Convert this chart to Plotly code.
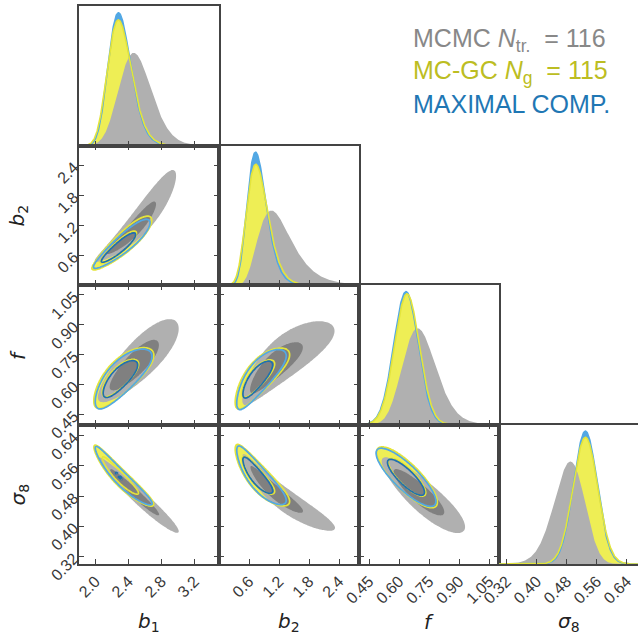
import numpy as np
import plotly.graph_objects as go

# ---------------- data ----------------
param_labels = ["<i>b</i><sub>1</sub>", "<i>b</i><sub>2</sub>", "<i>f</i>", "<i>σ</i><sub>8</sub>"]
axis_ranges = [[1.8, 3.5], [0.0, 2.8], [0.40, 1.10], [0.30, 0.67]]
tick_values = [[2.0, 2.4, 2.8, 3.2],
               [0.6, 1.2, 1.8, 2.4],
               [0.45, 0.60, 0.75, 0.90, 1.05],
               [0.32, 0.40, 0.48, 0.56, 0.64]]
tick_labels = [["2.0", "2.4", "2.8", "3.2"],
               ["0.6", "1.2", "1.8", "2.4"],
               ["0.45", "0.60", "0.75", "0.90", "1.05"],
               ["0.32", "0.40", "0.48", "0.56", "0.64"]]

# parameter pairs, in this order, for the correlation lists
pairs = [(0, 1), (0, 2), (0, 3), (1, 2), (1, 3), (2, 3)]

# MCMC (N_tr = 116): median, width, skewness of each marginal
mcmc_loc = [2.49, 1.166, 0.705, 0.486]
mcmc_scale = [0.20, 0.37, 0.085, 0.041]
mcmc_skew = [0.13, 0.34, 0.14, -0.10]
mcmc_corr = [0.94, 0.83, -0.97, 0.83, -0.94, -0.87]

# MC-GC (N_g = 115)
mcgc_loc = [2.30, 0.78, 0.640, 0.530]
mcgc_scale = [0.148, 0.22, 0.062, 0.033]
mcgc_skew = [0.15, 0.20, 0.0, 0.0]
mcgc_corr = [0.90, 0.75, -0.94, 0.78, -0.855, -0.82]

# maximal compression
maxc_loc = [2.30, 0.77, 0.635, 0.530]
maxc_scale = [0.140, 0.200, 0.061, 0.0315]
maxc_skew = [0.15, 0.20, 0.0, 0.0]
maxc_corr = [0.91, 0.76, -0.95, 0.79, -0.86, -0.83]

contour_mass = [0.68, 0.95]
maxc_inner_mass = [0.68, 0.68, 0.05, 0.68, 0.68, 0.68]

legend_texts = ["MCMC <i>N</i><sub>tr.</sub>&#160;&#160;=&#160;116",
                "MC-GC <i>N</i><sub>g</sub>&#160;&#160;=&#160;115",
                "MAXIMAL COMP."]

# ---------------- styles ----------------
GRAY_L = "#b0b0b0"
GRAY_D = "#808080"
YEL_FILL = "#eeee55"
YEL_LINE = "#e4e43a"
BLUE_L = "#52a8e4"
BLUE_D = "#1f70b0"
AX_COL = "#444444"
legend_colors = ["#888888", "#bcbd22", "#1f77b4"]

W, H = 638, 635
L0, T0, CW, RH = 79, 6, 140, 139.5


def latent(x, loc, scale, k):
    if abs(k) < 1e-9:
        return (x - loc) / scale, np.full_like(x, 1.0 / scale)
    arg = 1 + k * (x - loc) / scale
    ok = arg > 0
    a = np.where(ok, arg, 1.0)
    z = np.where(ok, np.log(a) / k, 1e3)
    jac = np.where(ok, 1.0 / (scale * a), 0.0)
    return z, jac


def dens1(x, ds, p):
    loc, scale, skew, _ = ds
    z, j = latent(x, loc[p], scale[p], skew[p])
    return np.exp(-0.5 * z * z) / np.sqrt(2 * np.pi) * j


def dens2(X, Y, ds, pi, pj, r):
    loc, scale, skew, _ = ds
    zi, ji = latent(X, loc[pi], scale[pi], skew[pi])
    zj, jj = latent(Y, loc[pj], scale[pj], skew[pj])
    q = (zi ** 2 - 2 * r * zi * zj + zj ** 2) / (1 - r * r)
    return np.exp(-0.5 * q) / (2 * np.pi * np.sqrt(1 - r * r)) * ji * jj


def hpd_levels(d, masses):
    flat = np.sort(d.ravel())[::-1]
    cum = np.cumsum(flat)
    cum /= cum[-1]
    return [flat[min(np.searchsorted(cum, m), len(flat) - 1)] for m in masses]


mcmc = (mcmc_loc, mcmc_scale, mcmc_skew, mcmc_corr)
mcgc = (mcgc_loc, mcgc_scale, mcgc_skew, mcgc_corr)
maxc = (maxc_loc, maxc_scale, maxc_skew, maxc_corr)

fig = go.Figure()
layout = dict(width=W, height=H, margin=dict(l=0, r=0, t=0, b=0, autoexpand=False),
              paper_bgcolor="white", plot_bgcolor="white", showlegend=False)

tickfont = dict(family="Liberation Sans, Arial, sans-serif", size=16, color="#383838")

n = 0
for i in range(4):
    for j in range(i + 1):
        n += 1
        xn = "x" if n == 1 else f"x{n}"
        yn = "y" if n == 1 else f"y{n}"
        xk = "xaxis" if n == 1 else f"xaxis{n}"
        yk = "yaxis" if n == 1 else f"yaxis{n}"
        x0 = (L0 + CW * j) / W
        x1 = min((L0 + CW * (j + 1)) / W, 1.0)
        ytop = T0 + RH * i
        y0 = 1 - (ytop + RH) / H
        y1 = 1 - ytop / H
        common = dict(showgrid=False, zeroline=False, showline=True, linecolor=AX_COL,
                      linewidth=1.6, tickcolor=AX_COL, tickwidth=1.2, ticklen=5,
                      tickfont=tickfont, tickangle=-45, automargin=False)
        xaxis = dict(common, domain=[x0, x1], anchor=yn, range=axis_ranges[j],
                     tickmode="array", tickvals=tick_values[j], ticktext=tick_labels[j],
                     ticks="inside", showticklabels=(i == 3), ticklabelstandoff=0)
        if i == j:
            p = i
            xs = np.linspace(axis_ranges[p][0], axis_ranges[p][1], 400)
            dg = dens1(xs, mcmc, p)
            dy = dens1(xs, mcgc, p)
            db = dens1(xs, maxc, p)
            ymax = db.max() / 0.952
            xaxis["mirror"] = True
            yaxis = dict(common, domain=[y0, y1], anchor=xn, range=[0, ymax],
                         ticks="", showticklabels=False, mirror=True)
            for yv, fc in ((db, BLUE_L), (dy, YEL_FILL), (dg, GRAY_L)):
                fig.add_trace(go.Scatter(x=xs, y=yv, mode="lines", fill="tozeroy",
                                         fillcolor=fc, line=dict(width=0, color=fc),
                                         xaxis=xn, yaxis=yn, hoverinfo="skip"))
            for yv, lc in ((db, BLUE_L), (dy, YEL_LINE)):
                fig.add_trace(go.Scatter(x=xs, y=yv, mode="lines",
                                         line=dict(width=1.6, color=lc),
                                         xaxis=xn, yaxis=yn, hoverinfo="skip"))
        else:
            px_, py_ = j, i
            k = pairs.index((px_, py_))
            xaxis["mirror"] = "allticks"
            yaxis = dict(common, domain=[y0, y1], anchor=xn, range=axis_ranges[py_],
                         tickmode="array", tickvals=tick_values[py_], ticktext=tick_labels[py_],
                         ticks="inside", showticklabels=(j == 0), mirror="allticks",
                         ticklabelstandoff=0)
            rx, ry = axis_ranges[px_], axis_ranges[py_]
            wx, wy = rx[1] - rx[0], ry[1] - ry[0]
            gx = np.linspace(rx[0] - 0.4 * wx, rx[1] + 0.4 * wx, 320)
            gy = np.linspace(ry[0] - 0.4 * wy, ry[1] + 0.4 * wy, 320)
            GX, GY = np.meshgrid(gx, gy)
            px2 = np.linspace(rx[0] - 0.02 * wx, rx[1] + 0.02 * wx, 110)
            py2 = np.linspace(ry[0] - 0.02 * wy, ry[1] + 0.02 * wy, 110)
            PX, PY = np.meshgrid(px2, py2)
            res = {}
            for name, ds in (("g", mcmc), ("y", mcgc), ("b", maxc)):
                r = ds[3][k]
                dw = dens2(GX, GY, ds, px_, py_, r)
                masses = list(contour_mass)
                if name == "b":
                    masses = [maxc_inner_mass[k], contour_mass[1]]
                levs = hpd_levels(dw, masses)
                mx = dw.max()
                zp = np.round(dens2(PX, PY, ds, px_, py_, r) / mx, 5)
                res[name] = (zp, [lv / mx for lv in levs])

            def cfill(z, lev, col):
                fig.add_trace(go.Contour(x=np.round(px2, 5), y=np.round(py2, 5), z=z,
                                         contours=dict(type="constraint", operation="<", value=lev),
                                         fillcolor=col, line=dict(width=0, color=col),
                                         showscale=False, hoverinfo="skip", xaxis=xn, yaxis=yn))

            def cline(z, lev, col, w=1.7, dash="solid"):
                fig.add_trace(go.Contour(x=np.round(px2, 5), y=np.round(py2, 5), z=z,
                                         contours=dict(type="constraint", operation="<", value=lev),
                                         fillcolor="rgba(0,0,0,0)", line=dict(width=w, color=col, dash=dash),
                                         showscale=False, hoverinfo="skip", xaxis=xn, yaxis=yn))

            zy, ly = res["y"]
            zg, lg = res["g"]
            zb, lb = res["b"]
            cfill(zy, ly[1], YEL_FILL)
            cfill(zg, lg[1], GRAY_L)
            cfill(zg, lg[0], GRAY_D)
            cline(zy, ly[1], YEL_LINE)
            cline(zy, ly[0], YEL_LINE)
            cline(zb, lb[1], BLUE_L)
            cline(zb, lb[0], BLUE_D, w=(2.5 if maxc_inner_mass[k] < 0.5 else 1.7),
                  dash=("dot" if maxc_inner_mass[k] < 0.5 else "solid"))
        layout[xk] = xaxis
        layout[yk] = yaxis

annotations = []
title_font = dict(family="DejaVu Sans, sans-serif", size=20, color="#222222")
for j in range(4):
    annotations.append(dict(x=(L0 + CW * j + 70) / W, y=1 - 622 / H, xref="paper", yref="paper",
                            text=param_labels[j], showarrow=False, font=title_font,
                            xanchor="center", yanchor="middle"))
for i in range(1, 4):
    annotations.append(dict(x=18 / W, y=1 - (T0 + RH * i + 70) / H, xref="paper", yref="paper",
                            text=param_labels[i], showarrow=False, font=title_font, textangle=-90,
                            xanchor="center", yanchor="middle"))
for t, (txt, col) in enumerate(zip(legend_texts, legend_colors)):
    annotations.append(dict(x=411 / W, y=1 - (40 + 32 * t) / H, xref="paper", yref="paper",
                            text=txt, showarrow=False, xanchor="left", yanchor="middle",
                            font=dict(family="Liberation Sans, Arial, sans-serif", size=25, color=col)))
layout["annotations"] = annotations
fig.update_layout(**layout)
fig.write_html("out.html", config={"displayModeBar": False},
               post_script="document.body.style.margin='0';document.body.style.overflow='hidden';")
